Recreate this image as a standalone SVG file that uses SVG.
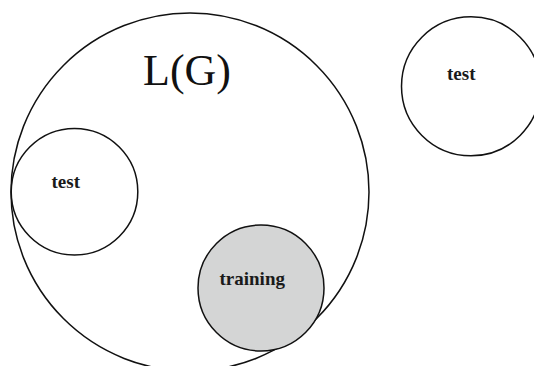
<svg xmlns="http://www.w3.org/2000/svg" width="534" height="366" viewBox="0 0 534 366">
<style>
.c{fill:none;stroke:#111;stroke-width:1.5}
.lbl{font-family:"Liberation Serif","Times New Roman",serif;font-weight:bold;font-size:19px;fill:#1a1a1a}
.big{font-family:"Liberation Serif","Times New Roman",serif;font-size:44px;fill:#111}
</style>
<rect width="534" height="366" fill="#fff"/>
<g id="LG">
<circle class="c" cx="190" cy="192" r="179"/>
<text class="big" x="143" y="85">L(G)</text>
</g>
<g id="test-inner">
<circle class="c" cx="74.5" cy="191.7" r="63.3"/>
<text class="lbl" x="51.5" y="188.3">test</text>
</g>
<g id="training">
<circle class="c" cx="261" cy="288" r="63" fill="#d4d5d5" style="fill:#d4d5d5"/>
<text class="lbl" x="219.5" y="285">training</text>
</g>
<g id="test-outer">
<circle class="c" cx="471" cy="86.3" r="69.5"/>
<text class="lbl" x="447" y="79.5">test</text>
</g>
<g id="connectors"></g>
</svg>
